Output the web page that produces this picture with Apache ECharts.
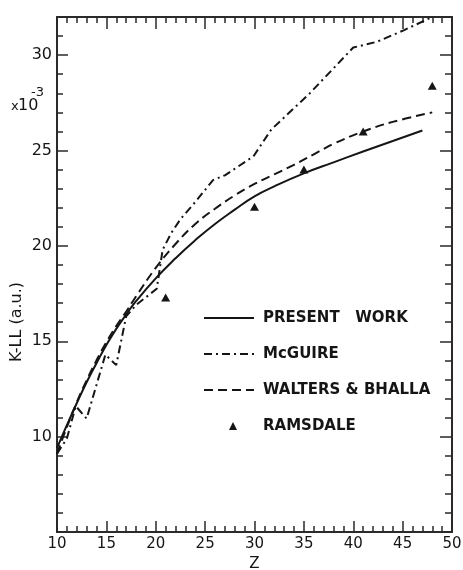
<!DOCTYPE html>
<html>
<head>
<meta charset="utf-8">
<script src="https://cdn.jsdelivr.net/npm/echarts@6/dist/echarts.min.js"></script>
<style>
  html, body { margin: 0; padding: 0; background: #ffffff; }
  #chart { width: 463px; height: 570px; }
</style>
</head>
<body>
<div id="chart"></div>
<script>
// K-LL transition rates (units of 10^-3 a.u.) versus atomic number Z
const presentWork = [[10, 9.4], [11, 10.6], [12, 11.75], [13, 12.85], [14, 13.85], [15, 14.8], [16, 15.65],
  [17, 16.4], [18, 17.1], [20, 18.3], [22, 19.35], [24, 20.3], [26, 21.15], [28, 21.9], [30, 22.6],
  [32, 23.12], [35, 23.8], [38, 24.38], [41, 24.95], [44, 25.5], [47, 26.05]];

const mcGuire = [[10, 9.1], [11, 9.9], [11.9, 11.6], [13, 10.95], [14.9, 14.3], [16, 13.75], [17, 16.3],
  [18, 16.9], [20.1, 17.75], [20.7, 19.8], [21.6, 20.7], [22.5, 21.4], [24, 22.3], [25.8, 23.45], [27, 23.7],
  [29.9, 24.7], [31.7, 26.1], [35.6, 28.0], [40, 30.4], [42.4, 30.7], [45.1, 31.3], [48, 32]];

const waltersBhalla = [[10, 9.1], [11, 10.5], [12, 11.8], [13, 12.95], [14, 14.0], [15, 14.95], [16, 15.8],
  [17, 16.55], [18, 17.35], [20, 18.85], [22, 20.1], [24, 21.15], [26, 21.95], [28, 22.65], [30, 23.25],
  [32, 23.75], [34, 24.25], [36, 24.8], [38, 25.35], [41, 26.0], [44, 26.5], [48, 27.0]];

const ramsdale = [[21, 17.3], [30, 22.05], [35, 24.0], [41, 26.0], [48, 28.4]];

const seriesNames = ['PRESENT   WORK', 'McGUIRE', 'WALTERS & BHALLA', 'RAMSDALE'];
const yLabelValues = [10, 15, 20, 25, 30];

const INK = '#151515';
const FRAME = '#2a2a2a';
const FONT = 'DejaVu Sans';

// Builds one axis of the frame; major axes carry the line and labels, minor ones only short ticks
function frameAxis(kind, position, min, max, interval, tickLen, withLine, withLabels) {
  return {
    type: 'value',
    position: position,
    min: min,
    max: max,
    interval: interval,
    axisLine: { show: withLine, lineStyle: { color: FRAME, width: 2 } },
    axisTick: { show: true, inside: true, length: tickLen, lineStyle: { color: FRAME, width: 1.5 } },
    axisLabel: withLabels ? (kind === 'x' ? {
      show: true, margin: 5, color: INK, fontFamily: FONT, fontSize: 15
    } : {
      show: true, margin: 5, color: INK, fontFamily: FONT, fontSize: 16,
      formatter: v => (yLabelValues.indexOf(v) >= 0 ? String(v) : '')
    }) : { show: false },
    splitLine: { show: false },
    minorTick: { show: false }
  };
}

const chart = echarts.init(document.getElementById('chart'), null, { renderer: 'canvas' });

const xMain = frameAxis('x', 'bottom', 10, 50, 5, 11, true, true);
xMain.name = 'Z';
xMain.nameLocation = 'middle';
xMain.nameGap = 24;
xMain.nameTextStyle = { color: INK, fontFamily: FONT, fontSize: 15 };

// Legend entries: the line keys show only their stroke pattern, the point key a small triangle
const legendData = seriesNames.map((name, i) => (i < 3
  ? { name: name, itemStyle: { opacity: 0 } }
  : { name: name, icon: 'path://M0,0M50,0M50,8M0,8M25,8L29,0L33,8Z', itemStyle: { opacity: 1 } }));

chart.setOption({
  backgroundColor: '#ffffff',
  animation: false,
  grid: { left: 57, right: 11, top: 17, bottom: 38, containLabel: false, outerBoundsMode: 'none' },
  xAxis: [
    xMain,
    frameAxis('x', 'bottom', 10, 50, 1, 6, false, false),
    frameAxis('x', 'top', 10, 50, 5, 12, true, false),
    frameAxis('x', 'top', 10, 50, 1, 6, false, false)
  ],
  yAxis: [
    frameAxis('y', 'left', 5, 32, 5, 11, true, true),
    frameAxis('y', 'left', 5, 32, 1, 6, false, false),
    frameAxis('y', 'right', 5, 32, 5, 12, true, false),
    frameAxis('y', 'right', 5, 32, 1, 7, false, false)
  ],
  legend: {
    orient: 'vertical',
    left: 203,
    top: 310,
    padding: 0,
    itemWidth: 50,
    itemHeight: 8,
    itemGap: 20,
    selectedMode: false,
    symbolKeepAspect: false,
    textStyle: { color: INK, fontFamily: FONT, fontSize: 15, fontWeight: 'bold', lineHeight: 16, padding: [0, 0, 0, 4] },
    data: legendData
  },
  graphic: [
    {
      type: 'text', x: 17, y: 322, rotation: Math.PI / 2,
      style: { text: 'K-LL (a.u.)', fill: INK, font: '16px "DejaVu Sans"', align: 'center', verticalAlign: 'middle' }
    },
    { type: 'text', x: 11, y: 107, style: { text: 'x', fill: INK, font: '13px "DejaVu Sans"', align: 'left', verticalAlign: 'middle' } },
    { type: 'text', x: 18, y: 106, style: { text: '10', fill: INK, font: '16px "DejaVu Sans"', align: 'left', verticalAlign: 'middle' } },
    { type: 'text', x: 31, y: 93, style: { text: '-3', fill: INK, font: '13px "DejaVu Sans"', align: 'left', verticalAlign: 'middle' } }
  ],
  series: [
    {
      name: seriesNames[0], type: 'line', xAxisIndex: 0, yAxisIndex: 0,
      data: presentWork, symbol: 'none', smooth: 0.5,
      lineStyle: { color: INK, width: 2, type: 'solid' }, itemStyle: { color: INK }
    },
    {
      name: seriesNames[1], type: 'line', xAxisIndex: 0, yAxisIndex: 0,
      data: mcGuire, symbol: 'none', smooth: false,
      lineStyle: { color: INK, width: 2, type: [8, 4, 2, 4] }, itemStyle: { color: INK }
    },
    {
      name: seriesNames[2], type: 'line', xAxisIndex: 0, yAxisIndex: 0,
      data: waltersBhalla, symbol: 'none', smooth: 0.4,
      lineStyle: { color: INK, width: 2, type: [9, 5] }, itemStyle: { color: INK }
    },
    {
      name: seriesNames[3], type: 'scatter', xAxisIndex: 0, yAxisIndex: 0,
      data: ramsdale, symbol: 'triangle', symbolSize: [9, 8],
      itemStyle: { color: INK, opacity: 1 }
    }
  ]
});
</script>
</body>
</html>
